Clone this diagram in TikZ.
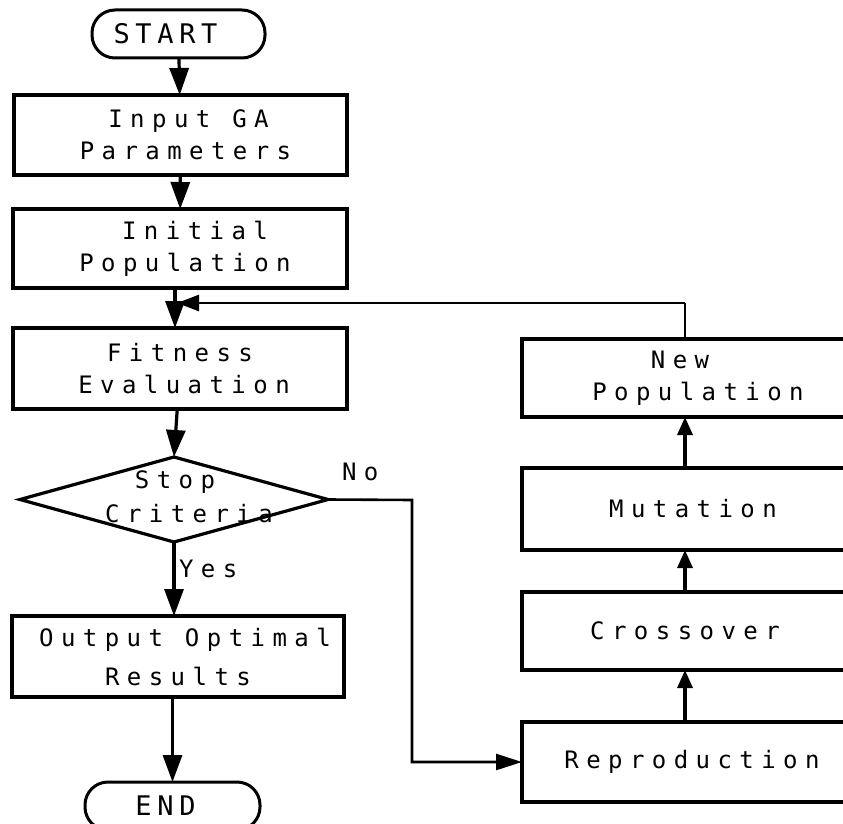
\documentclass[tikz,border=0pt]{standalone}
\usepackage{fontspec}
\newfontfamily\plotfont[LetterSpace=31]{DejaVu Sans Mono}
\newfontfamily\plotbig[LetterSpace=21]{DejaVu Sans Mono}
\usetikzlibrary{shapes.geometric,arrows.meta}
\newcommand{\hs}[1]{\hspace*{#1pt}}
\begin{document}
\begin{tikzpicture}[x=1pt,y=-1pt,
  box/.style={draw, rectangle, line width=3.2pt, inner sep=0pt, outer sep=0pt,
    align=center, font=\plotfont\fontsize{24}{32}\selectfont},
  term/.style={draw, rectangle, rounded corners=23pt, line width=3pt, inner sep=0pt,
    outer sep=0pt, font=\plotbig\fontsize{27}{32}\selectfont},
  lbl/.style={inner sep=0pt, outer sep=0pt, font=\plotfont\fontsize{24}{32}\selectfont},
  bigtip/.tip={Triangle[length=27pt,width=19pt]},
  smalltip/.tip={Triangle[length=18pt,width=15pt]},
  conn/.style={line width=3.2pt, -bigtip},
  upconn/.style={line width=3.2pt, -smalltip},
  thin/.style={line width=2.6pt}]
\useasboundingbox (0,0) rectangle (843,824);
\clip (0,0) rectangle (843,824);
% left column
\node[term, minimum width=173, minimum height=48] (start) at (178.5,34) {START\hs{26}};
\node[box, minimum width=333, minimum height=80] (input) at (180.5,135) {\hs{16}Input GA\\\hs{10}Parameters};
\node[box, minimum width=334, minimum height=79] (init) at (180,248.5) {\hs{30}Initial\\\hs{10}Population};
\node[box, minimum width=334, minimum height=81] (fit) at (180,368.5) {Fitness\\\hs{8}Evaluation};
\node[draw, diamond, line width=3.2pt, inner sep=0pt, outer sep=0pt,
  minimum width=308, minimum height=85] (dia) at (174,499.5) {};
\node[lbl, anchor=base] (stop) at (175,488) {Stop};
\node[lbl, anchor=base] (crit) at (189,522) {Criteria};
\node[box, minimum width=332, minimum height=81, font=\plotfont\fontsize{24}{39}\selectfont]
  (out) at (178,656.5) {\hs{14}Output Optimal\\Results};
\node[term, minimum width=175, minimum height=48] (end) at (172.5,806) {END\hs{14}};
\node[lbl, anchor=base west] (yes) at (179,577) {Yes};
\node[lbl, anchor=base west] (no) at (342,480) {No};
% right column
\node[box, minimum width=326, minimum height=78] (newpop) at (685,378) {New\hs{10}\\\hs{26}Population};
\node[box, minimum width=326, minimum height=82] (mut) at (685,509) {\hs{16}Mutation};
\node[box, minimum width=326, minimum height=78] (cross) at (685,631) {Crossover};
\node[box, minimum width=326, minimum height=80] (repro) at (685,762) {\hs{14}Reproduction};
% coordinates
\coordinate (merge) at (177,303);
\coordinate (fbtop) at (685,303);
\coordinate (nocorner) at (412,500);
% connectors
\draw[conn] (start) -- (input);
\draw[conn] (input) -- (init);
\draw[conn] ([xshift=-5pt]init.south) -- ([xshift=-5pt]fit.north);
\draw[conn] (fit) -- (dia.north);
\draw[conn] (dia.south) -- (dia.south |- out.north);
\draw[conn] (out.south -| end.north) -- (end.north);
\draw[thin] (newpop.north) -- (fbtop);
\draw[thin, -{Triangle[length=22pt,width=16pt]}] (fbtop) -- (merge);
\draw[thin, -{Triangle[length=26pt,width=16pt]}] (dia.east) -- (nocorner) |- (repro.west);
\draw[upconn] (repro) -- (cross);
\draw[upconn] (cross) -- (mut);
\draw[upconn] (mut) -- (newpop);
\end{tikzpicture}
\end{document}
